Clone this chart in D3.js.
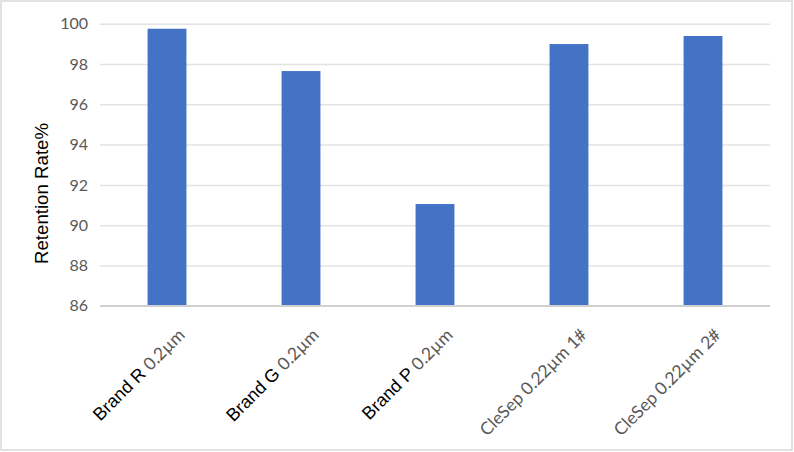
<!DOCTYPE html>
<html>
<head>
<meta charset="utf-8">
<script src="https://cdn.jsdelivr.net/npm/d3@7"></script>
<style>
  body { margin: 0; background: #fff; }
</style>
</head>
<body>
<script>
// categories are split in two parts: black brand name and grey spec text
var brands = ["Brand R ", "Brand G ", "Brand P ", "", ""];
var specs = ["0.2µm", "0.2µm", "0.2µm", "CleSep 0.22µm 1#", "CleSep 0.22µm 2#"];
var retention = [99.75, 97.65, 91.05, 98.99, 99.39];
var yTicks = [86, 88, 90, 92, 94, 96, 98, 100];

var width = 794, height = 452;
var plot = { left: 100, right: 770, top: 23.7, bottom: 305.8 };

var svg = d3.select('body')
    .append('svg')
    .attr('width', width)
    .attr('height', height);

// outer chart border
svg.append('rect')
    .attr('x', 1).attr('y', 1)
    .attr('width', width - 3).attr('height', height - 3)
    .attr('fill', '#fff')
    .attr('stroke', '#d9d9d9')
    .attr('stroke-width', 1.5);

var x = d3.scaleBand()
    .domain(specs.map(function (d, i) { return i; }))
    .range([plot.left, plot.right])
    .paddingInner(0.71)
    .paddingOuter(0.355);

var y = d3.scaleLinear()
    .domain([86, 100])
    .range([plot.bottom, plot.top]);

// y axis with gridlines
var yAxis = svg.append('g')
    .attr('transform', 'translate(' + plot.left + ',0)')
    .call(d3.axisLeft(y)
        .tickValues(yTicks)
        .tickSize(-(plot.right - plot.left))
        .tickPadding(12));

yAxis.select('.domain').remove();
yAxis.selectAll('.tick line')
    .attr('stroke', function (d) { return d === 86 ? '#d0d0d0' : '#e3e3e3'; })
    .attr('stroke-width', 1.5);
yAxis.selectAll('.tick text')
    .attr('fill', '#595959')
    .style('font-family', 'Lato, sans-serif')
    .style('font-size', '16px');

// bars
svg.append('g')
    .selectAll('rect')
    .data(retention)
    .enter()
    .append('rect')
    .attr('x', function (d, i) { return x(i); })
    .attr('y', function (d) { return y(d); })
    .attr('width', x.bandwidth())
    .attr('height', function (d) { return y(86) - y(d); })
    .attr('fill', '#4472c4');

// redraw baseline on top of bars
svg.append('line')
    .attr('x1', plot.left).attr('x2', plot.right)
    .attr('y1', y(86)).attr('y2', y(86))
    .attr('stroke', '#d0d0d0')
    .attr('stroke-width', 1.5);

// rotated category labels
var labels = svg.append('g')
    .selectAll('text')
    .data(specs)
    .enter()
    .append('text')
    .attr('text-anchor', 'end')
    .attr('transform', function (d, i) {
        var cx = x(i) + x.bandwidth() / 2;
        return 'translate(' + (cx + 19) + ',336) rotate(-45)';
    });

labels.append('tspan')
    .text(function (d, i) { return brands[i]; })
    .attr('fill', '#000')
    .style('font-family', '"Liberation Sans", Arial, sans-serif')
    .style('font-size', '18px')
    .style('white-space', 'pre');

labels.append('tspan')
    .text(function (d) { return d; })
    .attr('fill', '#595959')
    .style('font-family', 'Lato, sans-serif')
    .style('font-size', '17.5px');

// y axis title
svg.append('text')
    .attr('transform', 'translate(48,193.5) rotate(-90)')
    .attr('text-anchor', 'middle')
    .style('font-family', '"Liberation Sans", Arial, sans-serif')
    .style('font-size', '18.67px')
    .attr('fill', '#000')
    .text('Retention Rate%');
</script>
</body>
</html>
